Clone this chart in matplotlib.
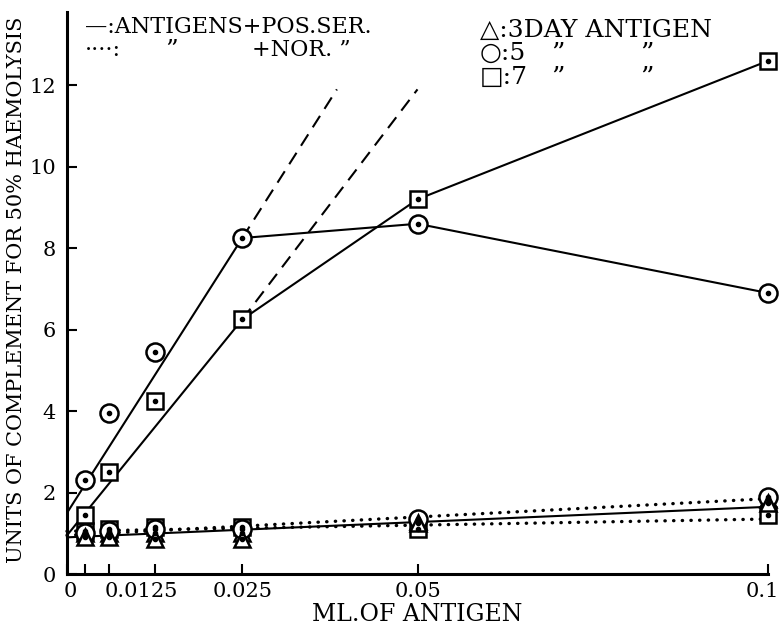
import matplotlib
matplotlib.use("Agg")
import matplotlib.pyplot as plt
from matplotlib.transforms import ScaledTranslation

# ---- data ----
dose = [0.0025, 0.006, 0.0125, 0.025, 0.05, 0.1]

# antigens + positive serum (scatter points)
circ5_pos = [2.3, 3.95, 5.45, 8.25, 8.6, 6.9]
sq7_pos = [1.45, 2.5, 4.25, 6.25, 9.2, 12.6]
tri3_pos = [0.9, 0.9, 0.85, 0.85, 1.25, 1.75]

# antigens + normal serum
tri3_nor = [1.0, 1.0, 1.0, 1.0, 1.3, 1.85]
circ5_nor = [1.0, 1.05, 1.1, 1.1, 1.35, 1.9]
sq7_nor = [1.05, 1.1, 1.15, 1.15, 1.1, 1.45]

# drawn lines
circ5_line_x = [0, 0.025, 0.05, 0.1]
circ5_line_y = [1.5, 8.25, 8.6, 6.9]
sq7_line_x = [0, 0.025, 0.05, 0.1]
sq7_line_y = [0.95, 6.25, 9.2, 12.6]
circ5_ext_x = [0.025, 0.0385]
circ5_ext_y = [8.25, 11.9]
sq7_ext_x = [0.025, 0.05]
sq7_ext_y = [6.25, 11.9]
fit_x = [0, 0.1]
tri3_pos_fit = [0.9, 1.65]
nor_fit_upper = [0.95, 1.85]
nor_fit_lower = [1.05, 1.35]

xticks = [0, 0.0125, 0.025, 0.05, 0.1]
xticklabels = ["0", "0.0125", "0.025", "0.05", "0.1"]
xminor = [0.0025, 0.006]
yticks = [0, 2, 4, 6, 8, 10, 12]

FONT = "DejaVu Serif"
plt.rcParams["font.family"] = [FONT, "DejaVu Sans"]

fig = plt.figure(figsize=(7.8, 6.3), dpi=100)
ax = fig.add_axes([67 / 780, 1 - 574 / 630, (768 - 67) / 780, (574 - 12) / 630])
ax.set_xlim(0, 0.1)
ax.set_ylim(0, 13.8)

for s in ["top", "right"]:
    ax.spines[s].set_visible(False)
for s in ["left", "bottom"]:
    ax.spines[s].set_linewidth(2.2)

lw = 1.5
ax.plot(circ5_line_x, circ5_line_y, color="black", lw=lw, zorder=2)
ax.plot(sq7_line_x, sq7_line_y, color="black", lw=lw, zorder=2)
ax.plot(circ5_ext_x, circ5_ext_y, color="black", lw=lw, ls=(0, (6.5, 4)), zorder=2)
ax.plot(sq7_ext_x, sq7_ext_y, color="black", lw=lw, ls=(0, (6.5, 4)), zorder=2)
ax.plot(fit_x, tri3_pos_fit, color="black", lw=lw, zorder=2, clip_on=False)
for yy in (nor_fit_upper, nor_fit_lower):
    ax.plot(fit_x, yy, color="black", lw=2.4, ls=(0, (0.1, 2.5)),
            dash_capstyle="round", zorder=2, clip_on=False)

def pts(y, marker, ms):
    ax.plot(dose, y, ls="none", marker=marker, ms=ms, mfc="white", mec="black",
            mew=1.8, zorder=3, clip_on=False)
    ax.plot(dose, y, ls="none", marker="o", ms=3, color="black", zorder=4,
            clip_on=False)

pts(tri3_nor, "^", 12)
pts(sq7_nor, "s", 12)
pts(circ5_nor, "o", 13)
pts(tri3_pos, "^", 12)
pts(sq7_pos, "s", 12)
pts(circ5_pos, "o", 13)

ax.set_xticks(xticks)
ax.set_xticklabels(xticklabels)
ax.set_xticks(xminor, minor=True)
ax.set_yticks(yticks)
ax.tick_params(axis="both", which="both", direction="in", length=7, width=1.5,
               labelsize=15)
ax.tick_params(axis="y", pad=8)
ax.tick_params(axis="x", pad=6)

# shift a few x tick labels as in the reference
shifts = {"0": 3, "0.0125": -13, "0.1": -6}
for lab in ax.get_xticklabels():
    dx = shifts.get(lab.get_text(), 0)
    if dx:
        lab.set_transform(lab.get_transform() + ScaledTranslation(dx / 100, 0, fig.dpi_scale_trans))

ax.set_xlabel("ML.OF ANTIGEN", fontsize=17, labelpad=1)
ax.set_ylabel("UNITS OF COMPLEMENT FOR 50% HAEMOLYSIS", fontsize=15)
ax.yaxis.set_label_coords(-0.058, 0.505)

# legend as text
fig.text(85 / 780, 1 - 27 / 630, "\u2014:ANTIGENS+POS.SER.", fontsize=16,
         va="center", ha="left")
fig.text(85 / 780, 1 - 50 / 630, "\u00b7\u00b7\u00b7\u00b7:", fontsize=16,
         va="center", ha="left")
fig.text(172 / 780, 1 - 50 / 630, "\u201d", fontsize=18, va="center", ha="center")
fig.text(252 / 780, 1 - 50 / 630, "+NOR. \u201d", fontsize=16,
         va="center", ha="left")
fig.text(480 / 780, 1 - 30 / 630, "\u25b3:3DAY ANTIGEN", fontsize=18,
         va="center", ha="left")
for row_y, lab in ((53, "\u25cb:5"), (77, "\u25a1:7")):
    fig.text(480 / 780, 1 - row_y / 630, lab, fontsize=18, va="center", ha="left")
    fig.text(558 / 780, 1 - row_y / 630, "\u201d", fontsize=19, va="center", ha="center")
    fig.text(647 / 780, 1 - row_y / 630, "\u201d", fontsize=19, va="center", ha="center")

fig.savefig("out.png", dpi=100)
